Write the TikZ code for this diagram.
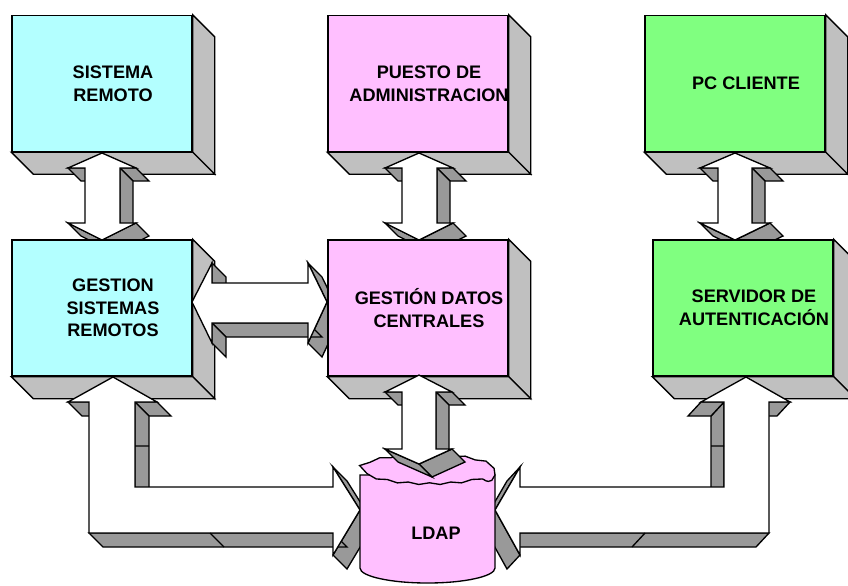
\documentclass[tikz,border=0pt]{standalone}
\usepackage{fontspec}
\setmainfont{Liberation Sans}
\usepackage{tikz}
\usetikzlibrary{calc, decorations.pathmorphing}
\definecolor{remotecolor}{RGB}{179,255,255}
\definecolor{admincolor}{RGB}{255,191,255}
\definecolor{clientcolor}{RGB}{128,255,128}
\definecolor{sidegray}{RGB}{192,192,192}
\definecolor{arrowgray}{RGB}{153,153,153}

\tikzset{
    block/.style={draw, line width=1pt, minimum width=135pt, minimum height=102pt, inner sep=0pt},
    blocktext/.style={font=\bfseries\fontsize{13.6}{17}\selectfont, align=center, inner sep=0pt},
    boxside/.style={draw, fill=sidegray, line width=1pt},
    arrowside/.style={draw, fill=arrowgray, line width=1pt},
    arrowface/.style={draw, fill=white, line width=1pt}
}

% box with its right and bottom faces: name, position, colour, text
\newcommand\cubebox[4]{%
    \node[block, fill=#3] (#1) at #2 {};
    \node[blocktext] (#1-text) at ([xshift=8.25pt]#1.center) {#4};
    \filldraw[boxside] (#1.north east) -- ++(22,22) -- ([shift={(22,22)}]#1.south east) -- (#1.south east) -- cycle;
    \filldraw[boxside] (#1.south west) -- ++(22,22) -- ([shift={(22,22)}]#1.south east) -- (#1.south east) -- cycle;
}

% extruded block arrow: depth dx, dy, first corner x, y, other corners (clockwise, back to the first)
\newcommand\solidarrow[5]{%
    \foreach \x/\y [remember=\x as \px (initially #3), remember=\y as \py (initially #4)] in {#5}{
        \pgfmathsetmacro\facing{(\x-\px)*(#2)-(\y-\py)*(#1)}
        \ifdim\facing pt<0pt
            \filldraw[arrowside] (\px,\py) -- (\x,\y) -- ++(#1,#2) -- ({\px+#1},{\py+#2}) -- cycle;
        \fi
    }
    \filldraw[arrowface] (#3,#4) \foreach \x/\y in {#5}{ -- (\x,\y)} -- cycle;
}

\begin{document}
\begin{tikzpicture}[x=0.75pt, y=-0.75pt]
    \clip (0,0) rectangle (848,585);

    % Top row
    \cubebox{remoto}{(102,83.5)}{remotecolor}{SISTEMA\\REMOTO}
    \cubebox{puesto}{(418,83.5)}{admincolor}{PUESTO DE\\ADMINISTRACION}
    \cubebox{cliente}{(735,83.5)}{clientcolor}{PC CLIENTE}

    % Links down to the second row
    \solidarrow{13}{13}{102}{153}{136/168, 120/168, 120/223, 136/223, 102/240, 68/223, 85/223, 85/168, 68/168, 102/153}
    \solidarrow{13}{13}{419}{153}{453/168, 437/168, 437/223, 453/223, 419/240, 385/223, 402/223, 402/168, 385/168, 419/153}
    \solidarrow{13}{13}{735}{153}{770/168, 752/168, 752/223, 770/223, 735/240, 700/223, 718/223, 718/168, 700/168, 735/153}

    % Second row
    \cubebox{gestion}{(102,308)}{remotecolor}{GESTION\\SISTEMAS\\REMOTOS}
    \solidarrow{14}{14}{192}{302}{212/263, 212/283, 308/283, 308/263, 327/302, 308/343, 308/323, 212/323, 212/343, 192/302}
    \cubebox{datos}{(418,308)}{admincolor}{GESTIÓN DATOS\\CENTRALES}
    \cubebox{servidor}{(743,308)}{clientcolor}{SERVIDOR DE\\AUTENTICACIÓN}

    % Elbow links into the directory
    \solidarrow{14}{14}{113}{377}{157/402, 135/402, 135/487, 333/487, 333/467, 360/510, 333/555, 333/533, 89/533, 89/402, 68/402, 113/377}
    \draw[line width=1pt] (135,446) -- (149,446) (210,533) -- (224,547);
    \solidarrow{-13}{14}{746}{377}{790/402, 769/402, 769/533, 520/533, 520/555, 495/510, 520/467, 520/487, 724/487, 724/402, 701/402, 746/377}
    \draw[line width=1pt] (724,446) -- (711,446) (645,533) -- (632,547);

    % Directory
    \filldraw[fill=admincolor, line width=1pt] (360,475) -- (360,568)
        arc[start angle=180, end angle=360, x radius=50.625pt, y radius=11.25pt] -- (495,475) -- cycle;
    \filldraw[fill=admincolor, line width=1pt, decorate, decoration={snake, amplitude=0.7pt, segment length=16pt}]
        (427.5,475) ellipse [x radius=50.625pt, y radius=11.25pt];
    \node[blocktext] (ldap) at (436,533) {LDAP};

    \solidarrow{13}{13}{419}{375}{452/392, 436/392, 436/449, 452/449, 419/464, 385/449, 402/449, 402/392, 385/392, 419/375}
\end{tikzpicture}
\end{document}
